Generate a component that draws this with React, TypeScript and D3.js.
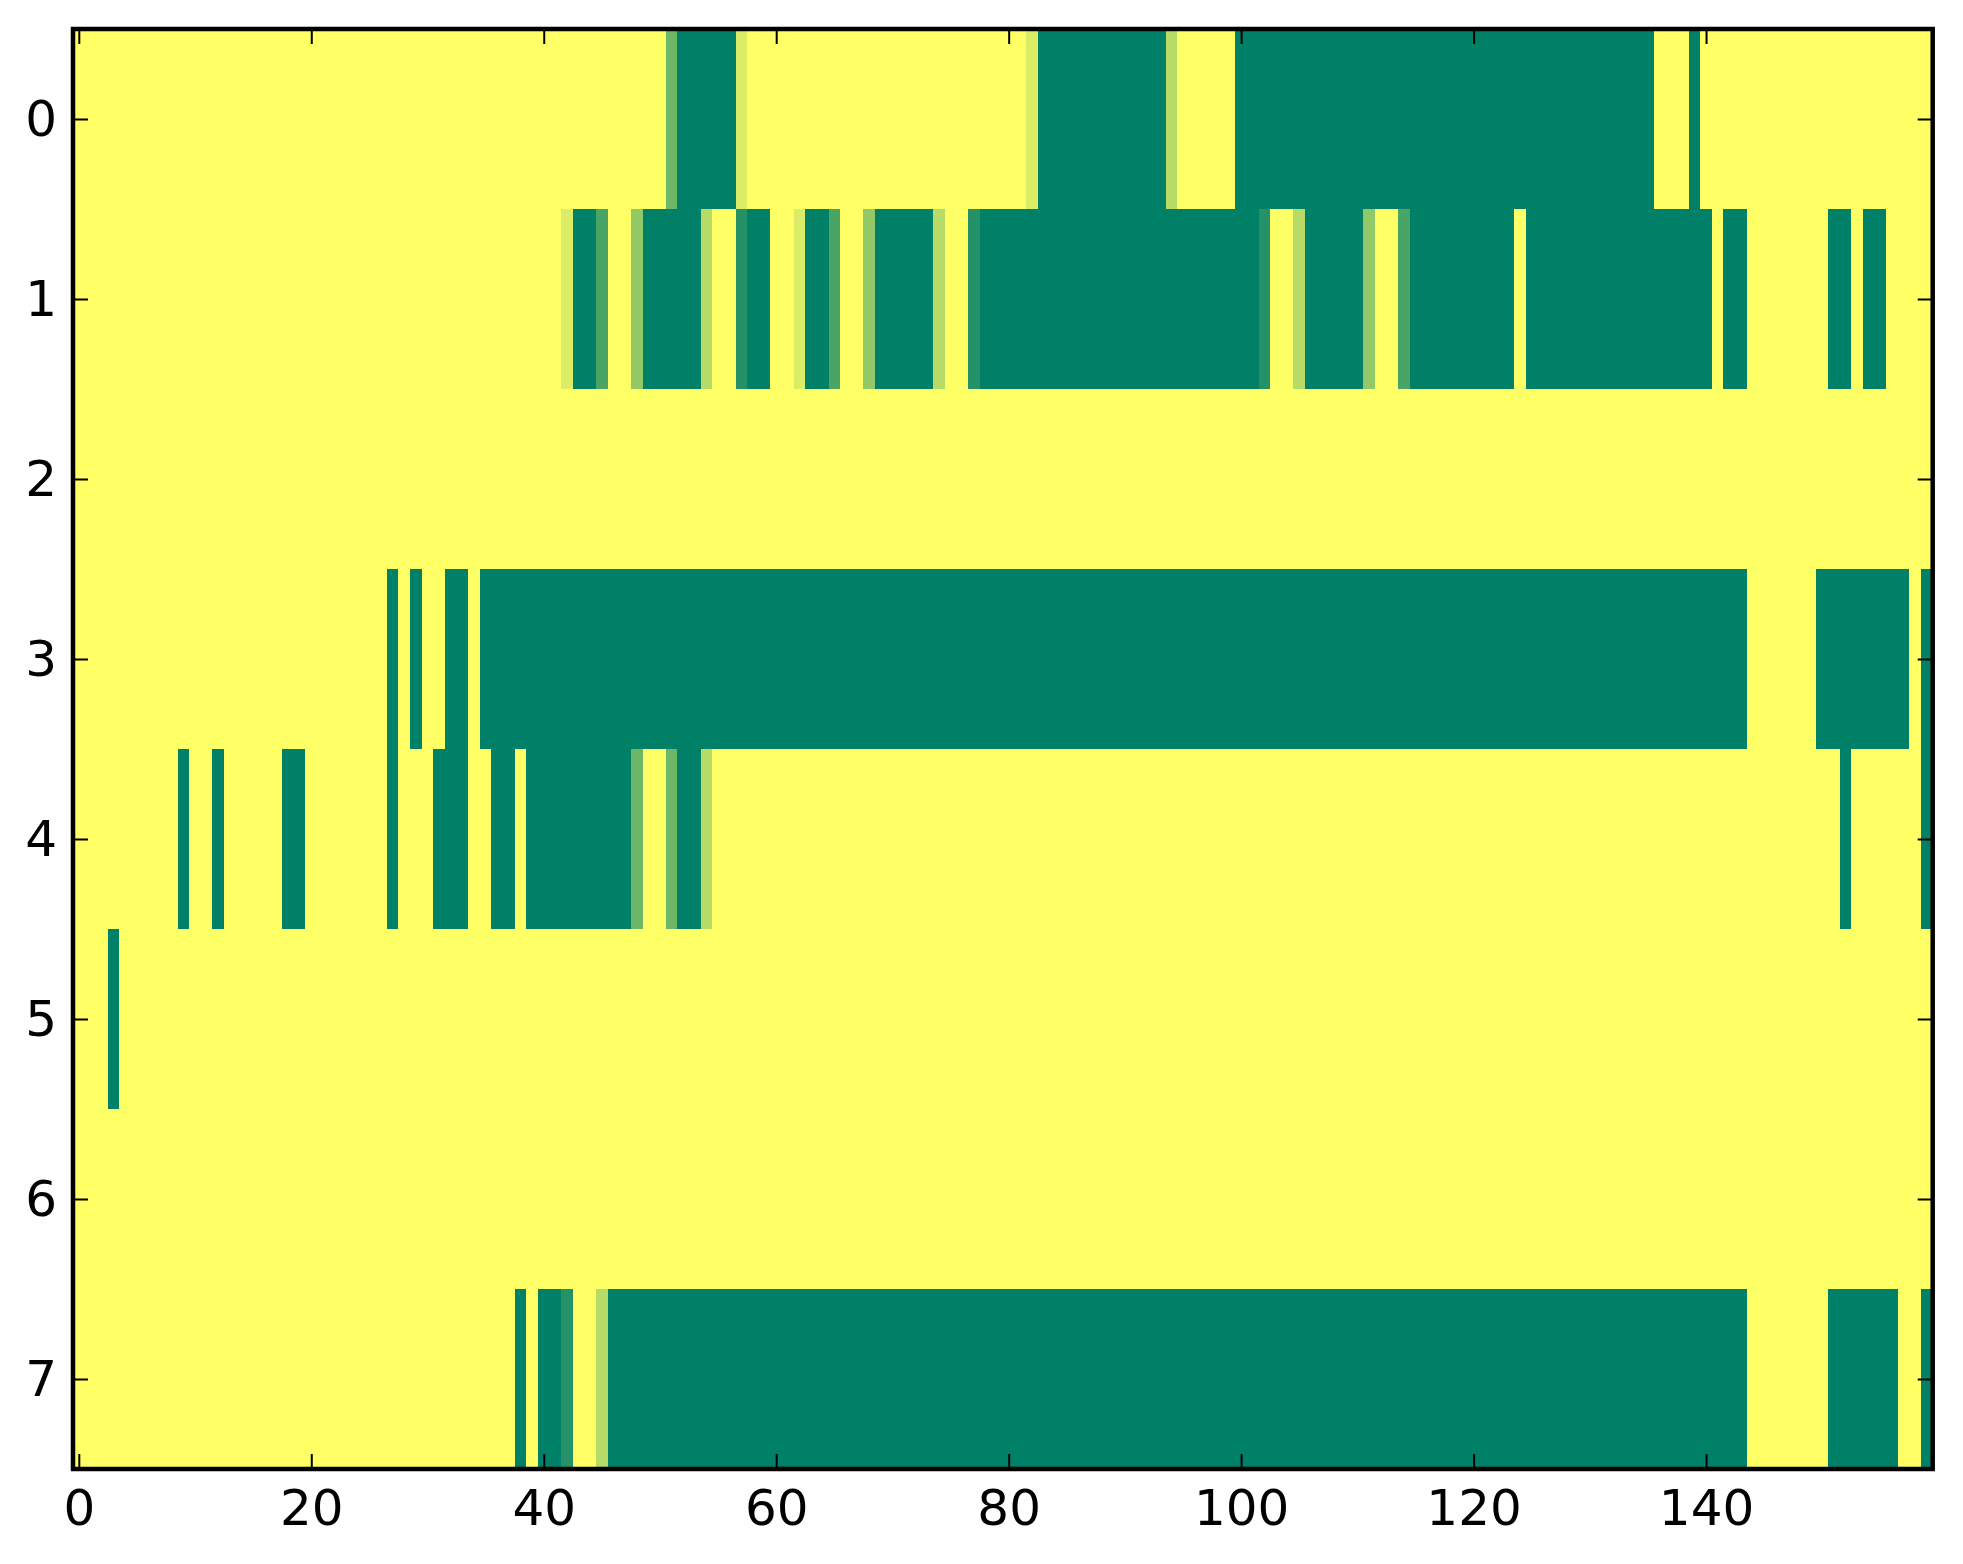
import { useEffect, useRef } from "react";
import * as d3 from "d3";

// One string per image row, one digit per column (value = digit / 7)
const row0 = "7777777777 7777777777 7777777777 7777777777 7777777777 7300000677 7777777777 7777777777 7760000000 0000577777 0000000000 0000000000 0000000000 0000007770 7777777777 7777777777";
const row1 = "7777777777 7777777777 7777777777 7777777777 7760027740 0000577100 7760027740 0000577100 0000000000 0000000000 0017750000 0477200000 0000700000 0000000000 0700777777 7007007777";
const row2 = "7777777777 7777777777 7777777777 7777777777 7777777777 7777777777 7777777777 7777777777 7777777777 7777777777 7777777777 7777777777 7777777777 7777777777 7777777777 7777777777";
const row3 = "7777777777 7777777777 7777777070 7700700000 0000000000 0000000000 0000000000 0000000000 0000000000 0000000000 0000000000 0000000000 0000000000 0000000000 0000777777 0000000070";
const row4 = "7777777770 7707777700 7777777077 7000770070 0000000037 7300577777 7777777777 7777777777 7777777777 7777777777 7777777777 7777777777 7777777777 7777777777 7777777777 7707777770";
const row5 = "7770777777 7777777777 7777777777 7777777777 7777777777 7777777777 7777777777 7777777777 7777777777 7777777777 7777777777 7777777777 7777777777 7777777777 7777777777 7777777777";
const row6 = "7777777777 7777777777 7777777777 7777777777 7777777777 7777777777 7777777777 7777777777 7777777777 7777777777 7777777777 7777777777 7777777777 7777777777 7777777777 7777777777";
const row7 = "7777777777 7777777777 7777777777 7777777707 0017750000 0000000000 0000000000 0000000000 0000000000 0000000000 0000000000 0000000000 0000000000 0000000000 0000777777 7000000770";

const rows = [row0, row1, row2, row3, row4, row5, row6, row7];
const LEVELS = 7;

const xTicks = [0, 20, 40, 60, 80, 100, 120, 140];
const yTicks = [0, 1, 2, 3, 4, 5, 6, 7];

const WIDTH = 1963;
const HEIGHT = 1564;
const FONT = "'DejaVu Sans', sans-serif";

export default function App() {
  const svgRef = useRef<SVGSVGElement>(null);

  useEffect(() => {
    if (!svgRef.current) return;
    const svg = d3.select(svgRef.current);
    svg.selectAll("*").remove();

    const grid = rows.map((r) => r.replace(/ /g, "").split("").map((c) => +c / LEVELS));
    const nCols = grid[0].length;

    // Zone du graphique
    const left = 73;
    const right = 1932.7;
    const top = 29;
    const bottom = 1469;

    const x = d3.scaleLinear().domain([-0.5, nCols - 0.5]).range([left, right]);
    const y = d3.scaleLinear().domain([-0.5, rows.length - 0.5]).range([top, bottom]);

    // colormap "summer" de matplotlib : linéaire en RGB
    const color = d3
      .scaleLinear<string>()
      .domain([0, 1])
      .range(["#008066", "#ffff66"])
      .interpolate(d3.interpolateRgb);

    const cells = grid.flatMap((r, row) => r.map((value, col) => ({ row, col, value })));

    svg
      .append("g")
      .selectAll("rect")
      .data(cells)
      .enter()
      .append("rect")
      .attr("x", (d) => x(d.col - 0.5))
      .attr("y", (d) => y(d.row - 0.5))
      .attr("width", (d) => x(d.col + 0.5) - x(d.col - 0.5))
      .attr("height", (d) => y(d.row + 0.5) - y(d.row - 0.5))
      .attr("fill", (d) => color(d.value))
      .attr("shape-rendering", "crispEdges");

    const styleAxis = (g: d3.Selection<SVGGElement, unknown, null, undefined>) => {
      g.select(".domain").remove();
      g.selectAll(".tick line").attr("stroke", "#000").attr("stroke-width", 2);
      g.selectAll(".tick text")
        .attr("fill", "#000")
        .style("font-family", FONT)
        .style("font-size", "50px");
    };

    // Axes (ticks vers l'intérieur)
    svg
      .append("g")
      .attr("transform", `translate(0,${bottom})`)
      .call(d3.axisBottom(x).tickValues(xTicks).tickSizeInner(-15).tickSizeOuter(0).tickPadding(20))
      .call(styleAxis);

    svg
      .append("g")
      .attr("transform", `translate(0,${top})`)
      .call(d3.axisTop(x).tickValues(xTicks).tickSizeInner(-15).tickSizeOuter(0).tickFormat(() => ""))
      .call(styleAxis);

    svg
      .append("g")
      .attr("transform", `translate(${left},0)`)
      .call(d3.axisLeft(y).tickValues(yTicks).tickSizeInner(-15).tickSizeOuter(0).tickPadding(16))
      .call(styleAxis);

    svg
      .append("g")
      .attr("transform", `translate(${right},0)`)
      .call(d3.axisRight(y).tickValues(yTicks).tickSizeInner(-15).tickSizeOuter(0).tickFormat(() => ""))
      .call(styleAxis);

    // Cadre
    svg
      .append("rect")
      .attr("x", left)
      .attr("y", top)
      .attr("width", right - left)
      .attr("height", bottom - top)
      .attr("fill", "none")
      .attr("stroke", "#000")
      .attr("stroke-width", 4.5);
  }, []);

  return (
    <svg
      ref={svgRef}
      width={WIDTH}
      height={HEIGHT}
      style={{ position: "absolute", left: 0, top: 0, background: "#fff" }}
    />
  );
}
